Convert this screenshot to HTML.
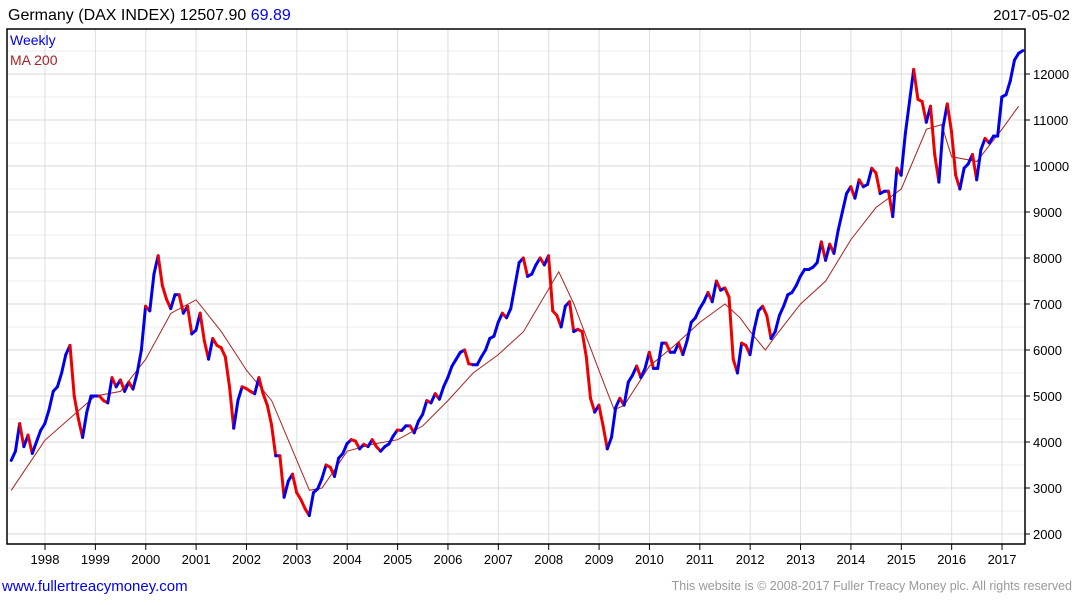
<!DOCTYPE html>
<html><head><meta charset="utf-8"><style>
body{margin:0;background:#fff;font-family:"Liberation Sans",sans-serif}
svg text{font-family:"Liberation Sans",sans-serif}
</style></head><body>
<svg id="c" width="1075" height="600">
<text x="8" y="20" font-size="16" fill="#000">Germany (DAX INDEX) 12507.90 <tspan fill="#0000ee">69.89</tspan></text>
<text x="1070" y="20" font-size="15" text-anchor="end" fill="#000">2017-05-02</text>
<g id="grid"></g>
<g id="ma"></g>
<g id="price"></g>
<rect x="7" y="29" width="1018" height="515" fill="none" stroke="#000" stroke-width="1.5"/>
<g id="axes"></g>
<text x="10" y="45" font-size="14" fill="#0000ee">Weekly</text>
<text x="10" y="65" font-size="14" fill="#aa2222">MA 200</text>
<text x="2" y="591" font-size="15" fill="#0000ee">www.fullertreacymoney.com</text>
<text x="1072" y="590" font-size="12.5" text-anchor="end" fill="#999">This website is © 2008-2017 Fuller Treacy Money plc. All rights reserved</text>
</svg>
<script>
const yearTicks=[1998,1999,2000,2001,2002,2003,2004,2005,2006,2007,2008,2009,2010,2011,2012,2013,2014,2015,2016,2017];
const valueTicks=[2000,3000,4000,5000,6000,7000,8000,9000,10000,11000,12000];
const startYear=1997.33;
const closes=[3600,3800,4400,3900,4150,3750,4000,4250,
4400,4700,5100,5200,5500,5900,6100,5000,4500,4100,4650,5000,5000,
5000,4900,4850,5400,5200,5350,5100,5300,5150,5500,6000,6950,
6850,7650,8050,7400,7100,6900,7200,7200,6800,6950,6350,6430,
6800,6200,5800,6250,6100,6050,5850,5200,4300,4900,5200,5160,
5100,5050,5400,5050,4800,4380,3700,3700,2800,3150,3300,2900,
2750,2550,2400,2900,2980,3200,3500,3450,3250,3650,3750,3965,
4050,4020,3850,3950,3900,4050,3900,3800,3900,3960,4130,4260,
4250,4350,4350,4200,4450,4600,4900,4850,5050,4930,5200,5400,
5650,5800,5950,6000,5700,5680,5680,5850,6000,6250,6300,6600,
6800,6700,6900,7400,7900,8000,7600,7650,7850,8000,7850,8050,
6850,6750,6500,6950,7050,6400,6450,6400,5850,4950,4650,4800,
4350,3850,4100,4750,4950,4800,5300,5450,5650,5400,5600,5950,
5600,5600,6150,6150,5950,5950,6150,5900,6200,6600,6700,6900,
7050,7250,7050,7500,7300,7350,7150,5800,5500,6150,6100,5900,
6450,6850,6950,6750,6250,6400,6750,6950,7200,7250,7400,7600,
7750,7750,7800,7900,8350,7950,8300,8100,8600,9000,9400,9550,
9300,9700,9550,9600,9950,9850,9400,9450,9450,8900,9950,9800,
10700,11400,12100,11450,11400,10950,11300,10250,9650,10850,11350,10750,
9800,9500,9950,10050,10250,9700,10350,10600,10500,10650,10650,11500,
11550,11850,12300,12450,12508];
const maTimes=[1997.33,1998,1999,1999.5,2000,2000.5,2001,2001.5,2002,2002.5,2003,2003.25,2003.5,2004,2004.5,2005,2005.5,2006,2006.5,2007,2007.5,2008.2,2008.5,2009,2009.3,2009.5,2010,2010.5,2011,2011.5,2011.8,2012,2012.3,2012.5,2013,2013.5,2014,2014.5,2015,2015.5,2015.8,2016,2016.5,2017,2017.33];
const maValues=[2950,4040,5000,5100,5800,6800,7090,6400,5560,4900,3600,2950,3000,3800,3950,4050,4350,4900,5500,5900,6400,7700,7000,5550,4700,4800,5650,6100,6600,7000,6700,6400,6000,6300,7000,7500,8400,9100,9500,10800,10900,10200,10100,10800,11300];
const NS="http://www.w3.org/2000/svg";
function X(t){return 45+(t-1998)*50.37;}
function Y(v){return 534-(v-2000)*0.046;}
function mk(tag,attrs,parent){const e=document.createElementNS(NS,tag);for(const k in attrs)e.setAttribute(k,attrs[k]);parent.appendChild(e);return e;}
const grid=document.getElementById('grid'),axes=document.getElementById('axes');
for(let v=2000;v<=12500;v+=500){
 const l=mk('line',{x1:7,x2:1025,y1:Y(v),y2:Y(v),stroke:v%1000?'#eeeeee':'#d8d8d8','stroke-width':1},grid);
 
 
}
yearTicks.forEach(yr=>{
 const x=X(yr);
 const l=mk('line',{x1:x,x2:x,y1:29,y2:544,stroke:'#dddddd','stroke-width':1},grid);
 
 
 mk('line',{x1:x,x2:x,y1:544,y2:550,stroke:'#000'},axes);
 const t=mk('text',{x:x,y:564,'font-size':13,'text-anchor':'middle',fill:'#000'},axes);
 t.textContent=yr;
 
 
});
valueTicks.forEach(v=>{
 mk('line',{x1:1025,x2:1030,y1:Y(v),y2:Y(v),stroke:'#000'},axes);
 const t=mk('text',{x:1033,y:Y(v)+5,'font-size':13,fill:'#000'},axes);
 t.textContent=v;
 
 
});
const price=document.getElementById('price');
for(let i=1;i<closes.length;i++){
 const t0=startYear+(i-1)/12,t1=startYear+i/12;
 const up=closes[i]>=closes[i-1];
 const s=mk('line',{x1:X(t0),y1:Y(closes[i-1]),x2:X(t1),y2:Y(closes[i]),stroke:up?'#0000ee':'#ee0000','stroke-width':3,'stroke-linecap':'round'},price);
 
 
}
const ma=document.getElementById('ma');
const pl=mk('polyline',{points:maTimes.map((t,i)=>X(t)+','+Y(maValues[i])).join(' '),fill:'none',stroke:'#aa2222','stroke-width':1},ma);


</script>
</body></html>
